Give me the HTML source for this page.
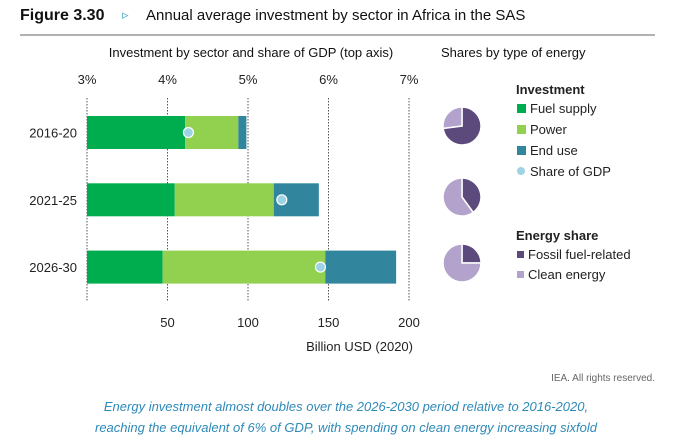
<!DOCTYPE html>
<html><head><meta charset="utf-8"><style>
body{margin:0;width:693px;height:443px;background:#fff;font-family:"Liberation Sans",sans-serif;overflow:hidden}
</style></head><body>
<svg width="693" height="443" font-family="Liberation Sans, sans-serif">
<text x="20" y="20" font-size="16" font-weight="bold" fill="#111">Figure 3.30</text>
<text x="122" y="19" font-size="13" fill="#4aa8c8">▹</text>
<text x="146" y="20" font-size="15" fill="#111">Annual average investment by sector in Africa in the SAS</text>
<line x1="20" y1="35" x2="655" y2="35" stroke="#999" stroke-width="1.5"/>
<text x="251" y="57" font-size="13" text-anchor="middle" fill="#111">Investment by sector and share of GDP (top axis)</text>
<text x="441" y="57" font-size="13" fill="#111">Shares by type of energy</text>
<g id="chart"></g>
<g id="pies"></g>
<g font-size="13" fill="#222">
<text x="516" y="94" font-weight="bold">Investment</text>
<rect x="517" y="104" width="9" height="9" fill="#00ad4e"/><text x="530" y="113">Fuel supply</text>
<rect x="517" y="125" width="9" height="9" fill="#92d050"/><text x="530" y="134">Power</text>
<rect x="517" y="146" width="9" height="9" fill="#31859c"/><text x="530" y="155">End use</text>
<circle cx="521" cy="171" r="4" fill="#9dd3e3"/><text x="530" y="176">Share of GDP</text>
<text x="516" y="240" font-weight="bold">Energy share</text>
<rect x="517" y="251" width="7" height="7" fill="#5c4a7d"/><text x="528" y="259">Fossil fuel-related</text>
<rect x="517" y="271" width="7" height="7" fill="#b3a3cc"/><text x="528" y="279">Clean energy</text>
</g>
<text x="655" y="381" font-size="10" text-anchor="end" fill="#666">IEA. All rights reserved.</text>
<text x="346" y="411" font-size="13" font-style="italic" text-anchor="middle" fill="#2e8ab8">Energy investment almost doubles over the 2026-2030 period relative to 2016-2020,</text>
<text x="346" y="432" font-size="13" font-style="italic" text-anchor="middle" fill="#2e8ab8">reaching the equivalent of 6% of GDP, with spending on clean energy increasing sixfold</text>
</svg>
<script>
const categories=["2016-20","2021-25","2026-30"];
const fuelSupply=[61,54.5,47];
const power=[33,61.5,101];
const endUse=[5,28,44];
const gdpShare=[4.26,5.42,5.9];
const bottomTicks=[50,100,150,200];
const topTicks=[3,4,5,6,7];
const fossilShare=[0.73,0.40,0.25];
const NS="http://www.w3.org/2000/svg";
const x=v=>87+v*1.61;
const xp=p=>87+(p-3)*80.5;
const yc=i=>132.5+i*67.3;
const chart=document.getElementById('chart');
function mk(t,a,parent){const e=document.createElementNS(NS,t);for(const k in a)e.setAttribute(k,a[k]);(parent||chart).appendChild(e);return e;}
topTicks.forEach(p=>{
 const l=mk('line',{x1:xp(p),x2:xp(p),y1:98,y2:302,stroke:'#555','stroke-dasharray':'1.5,1.5','stroke-width':1});
 
 
 const t=mk('text',{x:xp(p),y:84,'font-size':13,'text-anchor':'middle',fill:'#222'});t.textContent=p+'%';
 
 
});
bottomTicks.forEach(v=>{
 const t=mk('text',{x:x(v),y:327,'font-size':13,'text-anchor':'middle',fill:'#222'});t.textContent=v;
 
 
});
const xt=mk('text',{x:413,y:351,'font-size':13,'text-anchor':'end',fill:'#222'});xt.textContent='Billion USD (2020)';


categories.forEach((c,i)=>{
 const y=yc(i);
 const lab=mk('text',{x:77,y:y+5,'font-size':13,'text-anchor':'end',fill:'#222'});lab.textContent=c;
 
 
 let s=0;
 [[fuelSupply,'#00ad4e','bar-fuel-supply'],[power,'#92d050','bar-power'],[endUse,'#31859c','bar-end-use']].forEach(([arr,col,nm])=>{
  const r=mk('rect',{x:x(s),y:y-16.5,width:x(s+arr[i])-x(s),height:33,fill:col});
  
  
  s+=arr[i];
 });
 const d=mk('circle',{cx:xp(gdpShare[i]),cy:y,r:5,fill:'#9dd3e3',stroke:'#fff','stroke-width':1.2});
 
 
});
const pies=document.getElementById('pies');
const pieY=[126,197,263];
fossilShare.forEach((f,i)=>{
 const cx=462,cy=pieY[i],r=19;
 const pt=a=>[cx+r*Math.sin(a*2*Math.PI),cy-r*Math.cos(a*2*Math.PI)];
 const arc=(a0,a1,col,nm)=>{
  const [x0,y0]=pt(a0),[x1,y1]=pt(a1);
  const p=mk('path',{d:`M${cx},${cy}L${x0},${y0}A${r},${r} 0 ${(a1-a0)>0.5?1:0} 1 ${x1},${y1}Z`,fill:col,stroke:'#fff','stroke-width':1.5},pies);
  
  
 };
 arc(0,f,'#5c4a7d','pie-fossil-slice');
 arc(f,1,'#b3a3cc','pie-clean-slice');
});
</script>
</body></html>
